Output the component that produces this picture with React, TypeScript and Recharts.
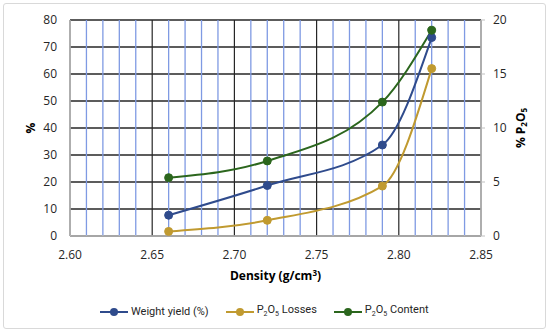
import React from "react";
import { LineChart, Line, XAxis, YAxis, CartesianGrid, ReferenceLine } from "recharts";

const density = [2.66, 2.72, 2.79, 2.82];
const weightYield = [7.7, 18.7, 33.7, 73.5];
const p2o5Losses = [1.7, 5.8, 18.5, 62.0];
const p2o5Content = [5.4, 6.95, 12.4, 19.05];

const xTicks = [2.6, 2.65, 2.7, 2.75, 2.8, 2.85];
const minorTicks = [2.61, 2.62, 2.63, 2.64, 2.66, 2.67, 2.68, 2.69, 2.71, 2.72, 2.73, 2.74, 2.76, 2.77, 2.78, 2.79, 2.81, 2.82, 2.83, 2.84];
const leftTicks = [0, 10, 20, 30, 40, 50, 60, 70, 80];
const rightTicks = [0, 5, 10, 15, 20];

const data = density.map((d, i) => ({
  density: d,
  weight: weightYield[i],
  losses: p2o5Losses[i],
  content: p2o5Content[i],
}));

const BLUE = "#2f4b8c";
const GOLD = "#c09a30";
const GREEN = "#2b661d";
const FONT = "'Open Sans', sans-serif";
const tickStyle = { fontSize: 12, fill: "#262626", fontFamily: FONT };

const XLabel = (props: any) => {
  const vb = props.viewBox || {};
  return (
    <text x={vb.x + vb.width / 2} y={vb.y + 44} textAnchor="middle" fontFamily={FONT} fontSize={12} fontWeight="bold" fill="#000">
      Density (g/cm<tspan dy={-4} fontSize={8}>3</tspan><tspan dy={4}>)</tspan>
    </text>
  );
};

const LeftLabel = (props: any) => {
  const vb = props.viewBox || {};
  const cx = 30;
  const cy = vb.y + vb.height / 2;
  return (
    <text x={cx} y={cy} transform={`rotate(-90 ${cx} ${cy})`} textAnchor="middle" dominantBaseline="central" fontFamily={FONT} fontSize={12} fontWeight="bold" fill="#000">
      %
    </text>
  );
};

const RightLabel = (props: any) => {
  const vb = props.viewBox || {};
  const cx = vb.x + 39;
  const cy = vb.y + vb.height / 2;
  return (
    <text x={cx} y={cy} transform={`rotate(-90 ${cx} ${cy})`} textAnchor="middle" dominantBaseline="central" fontFamily={FONT} fontSize={12} fontWeight="bold" fill="#000">
      % P<tspan dy={3} fontSize={8}>2</tspan><tspan dy={-3}>O</tspan><tspan dy={3} fontSize={8}>5</tspan>
    </text>
  );
};

const LegendItem = ({ color, children }: { color: string; children: React.ReactNode }) => (
  <div style={{ display: "flex", alignItems: "center" }}>
    <svg width={28} height={10} style={{ marginRight: 3 }}>
      <line x1={0} y1={5} x2={28} y2={5} stroke={color} strokeWidth={2} />
      <circle cx={14} cy={5} r={4} fill={color} />
    </svg>
    <span>{children}</span>
  </div>
);

export default function App() {
  return (
    <div style={{ position: "absolute", left: 0, top: 0, width: 550, height: 335, background: "#fff", overflow: "hidden" }}>
      <div style={{ position: "absolute", left: 3, top: 3, width: 541, height: 324, border: "1px solid #d9d9d9", borderRadius: 3 }} />
      <div style={{ position: "absolute", left: 0, top: 0 }}>
        <LineChart width={550} height={335} data={data} margin={{ top: 20, right: 0, bottom: 59, left: 0 }}>
          {minorTicks.map((v) => (
            <ReferenceLine key={v} x={v} yAxisId="left" stroke="#7f9ae3" strokeWidth={1.3} />
          ))}
          <CartesianGrid yAxisId="left" stroke="#262626" strokeWidth={1.2} horizontal={false} />
          <CartesianGrid yAxisId="left" stroke="#262626" strokeWidth={1.6} vertical={false} />
          <XAxis
            dataKey="density"
            type="number"
            domain={[2.6, 2.85]}
            ticks={xTicks}
            tickFormatter={(v: number) => v.toFixed(2)}
            tick={tickStyle}
            tickLine={false}
            tickMargin={8}
            axisLine={{ stroke: "#bfbfbf", strokeWidth: 1.5 }}
            height={40}
            label={<XLabel />}
          />
          <YAxis
            yAxisId="left"
            domain={[0, 80]}
            ticks={leftTicks}
            tick={tickStyle}
            tickLine={false}
            tickMargin={7}
            axisLine={{ stroke: "#bfbfbf", strokeWidth: 1.5 }}
            width={70}
            label={<LeftLabel />}
          />
          <YAxis
            yAxisId="right"
            orientation="right"
            domain={[0, 20]}
            ticks={rightTicks}
            tick={tickStyle}
            tickLine={{ stroke: "#bfbfbf" }}
            tickSize={4}
            tickMargin={8}
            axisLine={{ stroke: "#bfbfbf", strokeWidth: 1.5 }}
            width={69}
            label={<RightLabel />}
          />
          <Line yAxisId="left" type="monotone" dataKey="weight" stroke={BLUE} strokeWidth={2} dot={{ r: 4, fill: BLUE, stroke: BLUE, strokeWidth: 1 }} isAnimationActive={false} />
          <Line yAxisId="left" type="monotone" dataKey="losses" stroke={GOLD} strokeWidth={2} dot={{ r: 4, fill: GOLD, stroke: GOLD, strokeWidth: 1 }} isAnimationActive={false} />
          <Line yAxisId="right" type="monotone" dataKey="content" stroke={GREEN} strokeWidth={2} dot={{ r: 4, fill: GREEN, stroke: GREEN, strokeWidth: 1 }} isAnimationActive={false} />
        </LineChart>
      </div>
      <div style={{ position: "absolute", left: 100, top: 302, display: "flex", gap: 17, fontFamily: "Roboto, sans-serif", fontSize: 11, color: "#262626", lineHeight: "16px" }}>
        <LegendItem color={BLUE}>Weight yield (%)</LegendItem>
        <LegendItem color={GOLD}>
          P<sub style={{ fontSize: 7 }}>2</sub>O<sub style={{ fontSize: 7 }}>5</sub> Losses
        </LegendItem>
        <LegendItem color={GREEN}>
          P<sub style={{ fontSize: 7 }}>2</sub>O<sub style={{ fontSize: 7 }}>5</sub> Content
        </LegendItem>
      </div>
    </div>
  );
}
